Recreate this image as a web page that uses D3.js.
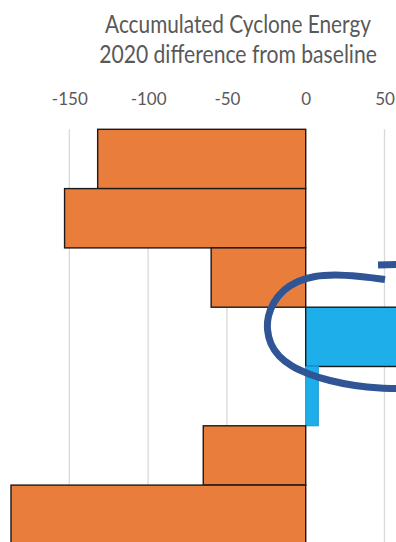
<!DOCTYPE html>
<html>
<head>
<meta charset="utf-8">
<script src="https://cdn.jsdelivr.net/npm/d3@7"></script>
<style>
  html, body { margin: 0; padding: 0; background: #fff; }
  svg { display: block; }
</style>
</head>
<body>
<div id="chart"></div>
<script>
// rows of the chart (labels are cropped out of the picture)
const categories = ['r1', 'r2', 'r3', 'r4', 'r5', 'r6', 'r7']
// ACE 2020 difference from baseline
const values = [-132, -153, -60, 70, 8, -65, -187]
const tickValues = [-150, -100, -50, 0, 50]
const titleLines = ['Accumulated Cyclone Energy', '2020 difference from baseline']

// hand drawn ring around the positive rows: [value, row position]
const ringMain = [
    [50.3, 2.533], [34.5, 2.482], [18.6, 2.457], [5.9, 2.482], [-4.9, 2.567],
    [-13.8, 2.718], [-20.1, 2.919], [-23.6, 3.148], [-24.2, 3.383], [-22.0, 3.619],
    [-16.9, 3.821], [-8.7, 3.992], [2.1, 4.125], [15.4, 4.236], [31.3, 4.320],
    [47.1, 4.363], [63.0, 4.371]
]
const ringTail = [[45.9, 2.288], [60.9, 2.275]]

const width = 396
const height = 542

const svg = d3.select('#chart')
    .append('svg')
    .attr('width', width)
    .attr('height', height)

const x = d3.scaleLinear()
    .domain([-150, 50])
    .range([69.3, 384.5])

const step = 59.3
const plotTop = 129.3
const y = d3.scaleBand()
    .domain(categories)
    .range([plotTop, plotTop + step * categories.length])
    .padding(0)

// row position -> pixel, for the annotation
const rowY = d3.scaleLinear()
    .domain([0, categories.length])
    .range(y.range())

//标题 : the original text is narrow, so squeeze it to the measured width
const titleWidths = [266, 278]
const titleBase = [33, 63]
titleLines.forEach((t, i) => {
    const g = svg.append('g')
    const txt = g.append('text')
        .attr('text-anchor', 'middle')
        .attr('font-family', 'Lato, "Open Sans", sans-serif')
        .attr('font-size', 25)
        .attr('fill', '#595959')
        .text(t)
    const w = txt.node().getComputedTextLength()
    g.attr('transform', `translate(238,${titleBase[i]}) scale(${titleWidths[i] / w},1)`)
})

// gridlines
svg.append('g')
    .selectAll('line')
    .data(tickValues)
    .enter()
    .append('line')
    .attr('x1', d => x(d))
    .attr('x2', d => x(d))
    .attr('y1', plotTop)
    .attr('y2', height)
    .attr('stroke', '#d9d9d9')
    .attr('stroke-width', 1.3)

// tick labels on top
const axis = d3.axisTop(x)
    .tickValues(tickValues)
    .tickSize(0)
    .tickPadding(0)
    .tickFormat(d => String(d))

const axisG = svg.append('g')
    .attr('transform', 'translate(0,105)')
    .call(axis)
axisG.select('.domain').remove()
axisG.selectAll('text')
    .attr('font-family', 'Lato, "Open Sans", sans-serif')
    .attr('font-size', 17)
    .attr('fill', '#595959')
    .attr('dy', 0)

// bars
const rows = categories.map((c, i) => ({ cat: c, value: values[i] }))
svg.append('g')
    .selectAll('rect')
    .data(rows)
    .enter()
    .append('rect')
    .attr('x', d => x(Math.min(0, d.value)))
    .attr('width', d => Math.abs(x(d.value) - x(0)))
    .attr('y', d => y(d.cat))
    .attr('height', y.bandwidth())
    .attr('fill', d => d.value < 0 ? '#E97E3C' : '#1EAEEA')
    .attr('stroke', (d, i) => i === 4 ? '#1996D3' : '#1a1a1a')
    .attr('stroke-width', (d, i) => i === 4 ? 1 : 1.4)

// ring
const ringLine = d3.line()
    .x(d => x(d[0]))
    .y(d => rowY(d[1]))
    .curve(d3.curveCatmullRom)

const ring = svg.append('g')
    .attr('fill', 'none')
    .attr('stroke', '#2F5597')
    .attr('stroke-width', 7)
    .attr('stroke-linecap', 'butt')

ring.append('path').attr('d', ringLine(ringMain))
ring.append('path').attr('d', ringLine(ringTail))
</script>
</body>
</html>
